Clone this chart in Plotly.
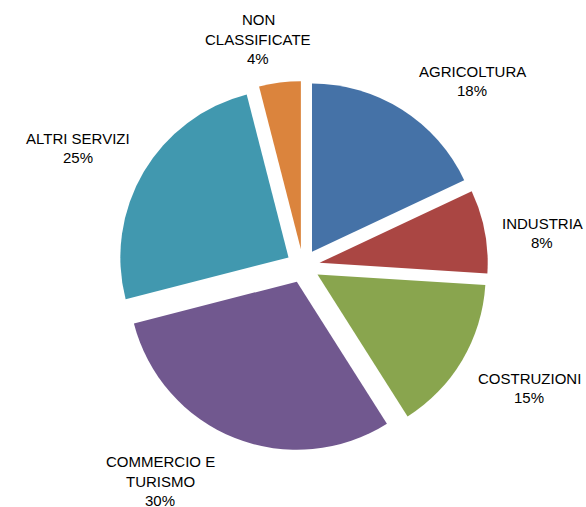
import plotly.graph_objects as go

categories = ["AGRICOLTURA", "INDUSTRIA", "COSTRUZIONI", "COMMERCIO E TURISMO", "ALTRI SERVIZI", "NON CLASSIFICATE"]
values = [18, 8, 15, 30, 25, 4]
label_lines = [
    ["AGRICOLTURA", "18%"],
    ["INDUSTRIA", "8%"],
    ["COSTRUZIONI", "15%"],
    ["COMMERCIO E", "TURISMO", "30%"],
    ["ALTRI SERVIZI", "25%"],
    ["NON", "CLASSIFICATE", "4%"],
]
colors = ["#4572A7", "#AA4643", "#89A54E", "#71588F", "#4198AF", "#DB843D"]

W, H = 586, 507
# label first-line centres in pixels
label_pos = [(472, 71.3), (542, 223.3), (529, 378.3), (160, 461.7), (78, 138.3), (258, 20)]
line_gap = 19.4

cx, cy, half = 303, 266, 185

fig = go.Figure(go.Pie(
    labels=categories,
    values=values,
    sort=False,
    direction="clockwise",
    rotation=0,
    pull=[0.1] * len(values),
    marker=dict(colors=colors, line=dict(width=0)),
    textinfo="none",
    hoverinfo="label+percent",
    domain=dict(x=[(cx - half) / W, (cx + half) / W], y=[(H - (cy + half)) / H, (H - (cy - half)) / H]),
))

annotations = []
for lines, (px, py) in zip(label_lines, label_pos):
    for i, t in enumerate(lines):
        annotations.append(dict(
            text=t, x=px / W, y=1 - (py + i * line_gap) / H, xref="paper", yref="paper",
            xanchor="center", yanchor="middle", showarrow=False,
            font=dict(family="Liberation Sans, Arial", size=15, color="#000000"),
        ))

fig.update_layout(
    width=W, height=H, margin=dict(l=0, r=0, t=0, b=0),
    paper_bgcolor="white", plot_bgcolor="white",
    showlegend=False, annotations=annotations,
)
fig.write_html("out.html")
